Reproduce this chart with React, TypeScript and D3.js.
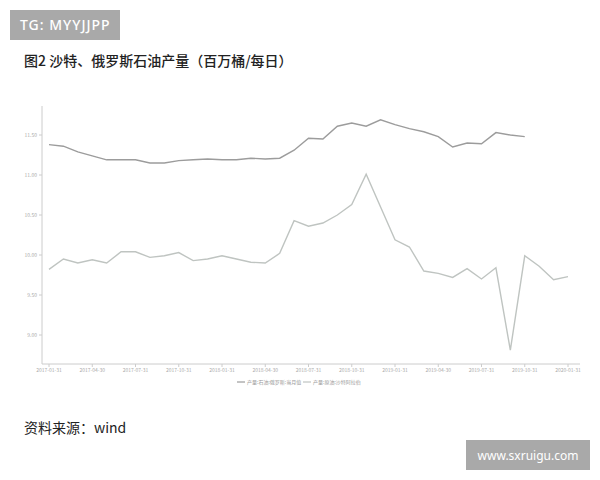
import React from 'react';
import * as d3 from 'd3';

// monthly, 2017-01 .. 2020-01
const months = d3.timeMonth.range(new Date(2017, 0, 1), new Date(2020, 1, 1));

const russia = [
  11.38, 11.36, 11.29, 11.24, 11.19, 11.19, 11.19, 11.15, 11.15, 11.18, 11.19, 11.2,
  11.19, 11.19, 11.21, 11.2, 11.21, 11.31, 11.46, 11.45, 11.61, 11.65, 11.61, 11.69,
  11.63, 11.58, 11.54, 11.48, 11.35, 11.4, 11.39, 11.53, 11.5, 11.48,
];

const saudi = [
  9.82, 9.95, 9.9, 9.94, 9.9, 10.04, 10.04, 9.97, 9.99, 10.03, 9.93, 9.95,
  9.99, 9.95, 9.91, 9.9, 10.02, 10.43, 10.36, 10.4, 10.5, 10.63, 11.01, 10.6,
  10.19, 10.1, 9.8, 9.77, 9.72, 9.83, 9.7, 9.84, 8.81, 9.99, 9.86, 9.69, 9.73,
];

const yTicks = [9.0, 9.5, 10.0, 10.5, 11.0, 11.5];
const xTickLabels = [
  '2017-01-31', '2017-04-30', '2017-07-31', '2017-10-31', '2018-01-31', '2018-04-30',
  '2018-07-31', '2018-10-31', '2019-01-31', '2019-04-30', '2019-07-31', '2019-10-31', '2020-01-31',
];
const seriesNames = ['产量:石油:俄罗斯:当月值', '产量:原油:沙特阿拉伯'];
const seriesColors = ['#9c9c9c', '#bfc4c1'];

const FONT = '"Noto Sans CJK SC", "Noto Sans", sans-serif';

export default function App() {
  const x = d3
    .scaleLinear()
    .domain([0, months.length - 1])
    .range([49, 568]);
  const y = d3.scaleLinear().domain([8.6375, 11.8625]).range([364, 106]);

  const line = d3
    .line<number>()
    .x((_, i) => x(i))
    .y((d) => y(d));

  return (
    <svg
      width={600}
      height={480}
      style={{ position: 'absolute', left: 0, top: 0, background: '#fff' }}
      fontFamily={FONT}
    >
      <rect x={0} y={0} width={600} height={480} fill="#fff" />

      {/* watermark top */}
      <rect x={10} y={10} width={110} height={30} fill="#a9a9a9" />
      <text x={20} y={30} fontSize={14} letterSpacing={1} fontWeight={500} fill="#fff" fontFamily='"Noto Sans", sans-serif'>
        TG: MYYJJPP
      </text>

      <text x={24} y={66} fontSize={14} fontWeight={500} fill="#222">
        图2 沙特、俄罗斯石油产量（百万桶/每日）
      </text>

      {/* y axis */}
      <line x1={42} x2={42} y1={106} y2={364} stroke="#ccc" strokeWidth={1} />
      {yTicks.map((t) => (
        <g key={t} transform={`translate(0,${y(t)})`}>
          <line x1={39} x2={42} stroke="#ccc" />
          <text x={37} dy="0.32em" fontSize={5} fill="#aaa" textAnchor="end">
            {t.toFixed(2)}
          </text>
        </g>
      ))}

      {/* x axis */}
      <line x1={42} x2={580} y1={364} y2={364} stroke="#ccc" strokeWidth={1} />
      {xTickLabels.map((lab, i) => (
        <g key={lab} transform={`translate(${x(i * 3)},364)`}>
          <line y1={0} y2={3} stroke="#ccc" />
          <text y={8} fontSize={5} fill="#aaa" textAnchor="middle">
            {lab}
          </text>
        </g>
      ))}

      <path d={line(saudi) ?? ''} fill="none" stroke={seriesColors[1]} strokeWidth={1.4} />
      <path d={line(russia) ?? ''} fill="none" stroke={seriesColors[0]} strokeWidth={1.4} />

      {/* legend */}
      {seriesNames.map((name, i) => {
        const lx = 237 + i * 66;
        return (
          <g key={name} transform={`translate(${lx},382)`}>
            <line x1={0} x2={8} stroke={seriesColors[i]} strokeWidth={1.2} />
            <text x={10} dy="0.32em" fontSize={5} fill="#999">
              {name}
            </text>
          </g>
        );
      })}

      <text x={24} y={433} fontSize={14} fill="#222">
        资料来源：wind
      </text>

      {/* watermark bottom */}
      <rect x={466} y={440} width={124} height={30} fill="#a9a9a9" />
      <text x={528} y={460} fontSize={12} fill="#fff" textAnchor="middle" fontFamily='"Noto Sans", sans-serif'>
        www.sxruigu.com
      </text>
    </svg>
  );
}
